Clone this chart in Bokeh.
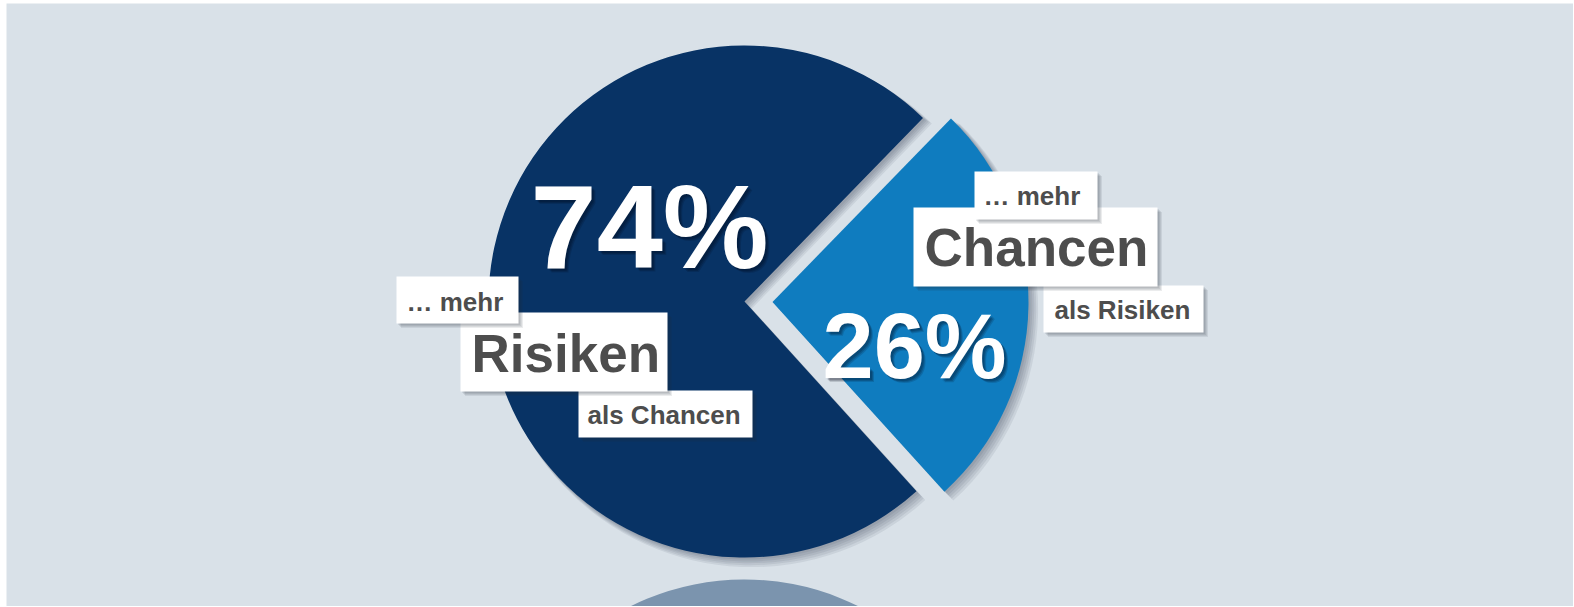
import numpy as np
from bokeh.plotting import figure
from bokeh.layouts import column, row
from bokeh.models import Range1d, ColumnDataSource, Spacer
from bokeh.core.properties import value
from bokeh.embed import file_html
from bokeh.resources import INLINE

# ---- data ----
categories = ["Risiken", "Chancen"]
shares = [74, 26]
pct_labels = ["74%", "26%"]
slice_colors = ["#083365", "#0f7cbf"]
left_lines = ["… mehr", "Risiken", "als Chancen"]
right_lines = ["… mehr", "Chancen", "als Risiken"]

# ---- layout ----
BG = "#d9e1e8"
W, H = 1567, 603
X0 = 7
def sy(v):  # page y -> data y
    return 607 - v

FONT = value("Liberation Sans")
TXT = "#4d4d4d"
BASE_FIX = 0.36  # baseline correction (fraction of font size)

p = figure(width=W, height=H, x_range=Range1d(X0, X0 + W), y_range=Range1d(0, H),
           output_backend="svg", toolbar_location=None, min_border=0,
           border_fill_color=BG, background_fill_color=BG, outline_line_color=None)
p.axis.visible = False
p.grid.visible = False

cx, cy, R = 745, sy(302), 256
start0 = np.radians(45.8)
fr = np.array(shares) / sum(shares)
starts = start0 + 2 * np.pi * np.concatenate([[0], np.cumsum(fr)[:-1]])
ends = start0 + 2 * np.pi * np.cumsum(fr)
explode = [0, 28]
mids = (starts + ends) / 2
xs = [cx + e * np.cos(m) for e, m in zip(explode, mids)]
ys = [cy + e * np.sin(m) for e, m in zip(explode, mids)]

# reflection
p.wedge(x=[cx], y=[sy(836)], radius=R, start_angle=[starts[0]], end_angle=[ends[0]],
        fill_color="#7b94ae", line_color=None)

# pie shadows
for k in range(5):
    d = 2 + k * 1.3
    p.wedge(x=[x + d for x in xs], y=[y - d for y in ys], radius=R + k * 0.6,
            start_angle=list(starts), end_angle=list(ends),
            fill_color="#1e2c3a", fill_alpha=0.08, line_color=None)

src = ColumnDataSource(dict(x=xs, y=ys, s=list(starts), e=list(ends), c=slice_colors, cat=categories))
p.wedge(x="x", y="y", radius=R, start_angle="s", end_angle="e", fill_color="c",
        line_color=None, source=src)

def put_text(t, x, y, size, color, alpha=1.0, dx=0, dy=0):
    p.text(x=[x], y=[sy(y - BASE_FIX * size)], text=[t], x_offset=dx, y_offset=dy,
           text_font=FONT, text_font_style="bold", text_font_size=f"{size}px",
           text_color=color, text_alpha=alpha, text_baseline="alphabetic")

# big percentages
big = [(pct_labels[0], 531, 270, 119), (pct_labels[1], 823, 380, 92)]
for t, x, y, fs in big:
    for k, a in enumerate([0.18, 0.18, 0.14]):
        put_text(t, x, y, fs, "#000814", a, 2 + k, 2 + k)
    put_text(t, x, y, fs, "white")

# label boxes: (text, box left, right, top, bottom, text x, baseline, size)
left_boxes = [
    (left_lines[2], 579, 753, 391, 438, 588, 425, 26),
    (left_lines[1], 461, 668, 313, 392, 472, 373, 53),
    (left_lines[0], 397, 519, 277, 324, 407, 312, 26),
]
right_boxes = [
    (right_lines[2], 1044, 1204, 286, 333, 1055, 320, 26),
    (right_lines[1], 914, 1158, 208, 287, 925, 267, 53),
    (right_lines[0], 975, 1098, 172, 220, 984, 206, 26),
]
for t, l, r, tp, bt, tx, ty, fs in left_boxes + right_boxes:
    for k in range(4):
        d = 1.5 + k
        p.quad(left=[l + d], right=[r + d], top=[sy(tp) - d], bottom=[sy(bt) - d],
               fill_color="#222c36", fill_alpha=0.09, line_color=None)
    p.quad(left=[l], right=[r], top=[sy(tp)], bottom=[sy(bt)], fill_color="white", line_color=None)
    put_text(t, tx, ty, fs, TXT)

layout = column(Spacer(width=W + 6, height=3),
                row(Spacer(width=6, height=H), p, spacing=0), spacing=0)
open("out.html", "w").write(file_html(layout, INLINE))
